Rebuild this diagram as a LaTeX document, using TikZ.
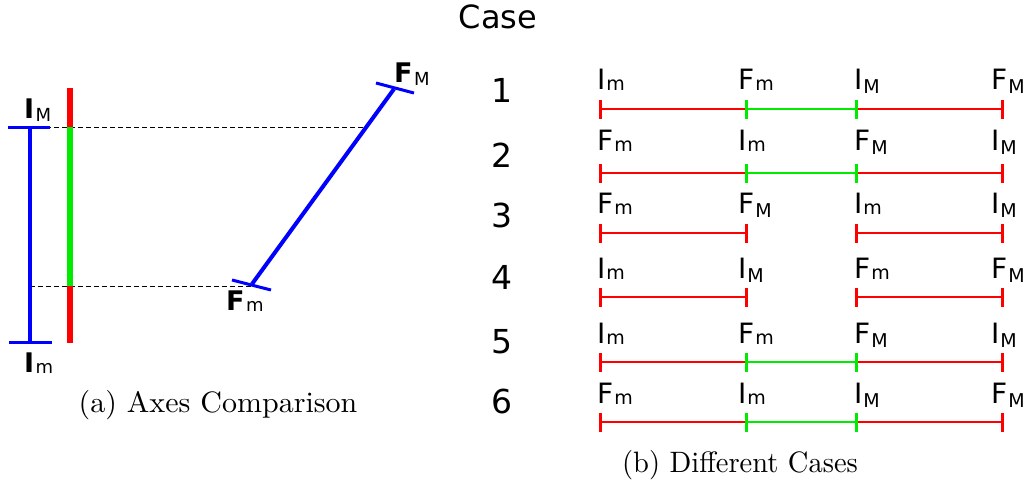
\documentclass[tikz,border=0pt]{standalone}
\usepackage{fontspec}
\usepackage{graphicx}
\newfontfamily\dv{DejaVu Sans}
\definecolor{pblue}{RGB}{0,0,255}
\definecolor{pred}{RGB}{255,0,0}
\definecolor{pgreen}{RGB}{0,235,0}
\newcommand\lbl[3]{#1\kern1pt\raisebox{-#3pt}{\fontsize{19}{19}\selectfont #2}}
\newcommand\blbl[3]{{\bfseries #1}\kern1.5pt\raisebox{-#3pt}{\fontsize{18}{18}\selectfont #2}}
\tikzset{
  blueln/.style={draw=pblue,line width=4pt},
  bluetick/.style={draw=pblue,line width=3pt},
  redbar/.style={draw=pred,line width=6.5pt},
  greenbar/.style={draw=pgreen,line width=6.5pt},
  dashln/.style={draw=black,line width=0.8pt,dash pattern=on 5pt off 3pt},
  seg/.style={line width=2.2pt},
  tk/.style={line width=3pt},
  rlab/.style={anchor=base west,inner sep=0pt,font=\dv\fontsize{28}{28}\selectfont},
  llab/.style={anchor=base west,inner sep=0pt,font=\dv\fontsize{27}{27}\selectfont},
  num/.style={anchor=base,inner sep=0pt,font=\dv\fontsize{33}{33}\selectfont},
  capnode/.style={inner sep=0pt}
}
\begin{document}
\begin{tikzpicture}[x=1pt,y=-1pt]
\useasboundingbox (0,0) rectangle (1026,485);
% ---------- left panel ----------
\coordinate (vt) at (30,127);
\coordinate (vb) at (30,342);
\coordinate (vtl) at (8,127);
\coordinate (vtr) at (50,127);
\coordinate (vbl) at (9,342);
\coordinate (vbr) at (52,342);
\coordinate (rt) at (70,88);
\coordinate (rb) at (70,343);
\coordinate (gt) at (70,127);
\coordinate (gb) at (70,286);
\coordinate (dl) at (30,286);
\coordinate (dt) at (366,127);
\coordinate (db2) at (251,286);
\coordinate (db) at (252,284);
\coordinate (dtop) at (394,89);
\coordinate (btl) at (232,280);
\coordinate (btr) at (271,290);
\coordinate (ttl) at (376,83);
\coordinate (ttr) at (414,93);
\draw[dashln] (vt) -- (dt);
\draw[dashln] (dl) -- (db2);
\draw[blueln] (vt) -- (vb);
\draw[bluetick] (vtl) -- (vtr);
\draw[bluetick] (vbl) -- (vbr);
\draw[redbar] (rt) -- (rb);
\draw[greenbar] (gt) -- (gb);
\draw[blueln] (db) -- (dtop);
\draw[bluetick] (btl) -- (btr);
\draw[bluetick] (ttl) -- (ttr);
\node[llab] (lIM) at (24,118) {\blbl{I}{M}{3}};
\node[llab] (lIm) at (24,372) {\blbl{I}{m}{1}};
\node[llab] (lFM) at (394,82) {\blbl{F}{M}{3}};
\node[llab] (lFm) at (226,310) {\blbl{F}{m}{1}};
\node[capnode] (capa) at (218,405) {\scalebox{3.0}[2.95]{\fontsize{10}{12}\selectfont (a) Axes Comparison}};
% ---------- right panel ----------
\node[anchor=base,inner sep=0pt,font=\dv\fontsize{32}{32}\selectfont] (case) at (498,28) {Case};
\foreach \n/\b in {1/102,2/167,3/227,4/289,5/353,6/413}
  \node[num] (n\n) at (502,\b) {\n};
\foreach \r/\l/\m in {
  1/109/pgreen,
  2/173/pgreen,
  3/233/white,
  4/297/white,
  5/362/pgreen,
  6/422/pgreen}{
  \coordinate (p\r a) at (600,\l);
  \coordinate (p\r b) at (746,\l);
  \coordinate (p\r c) at (856,\l);
  \coordinate (p\r d) at (1002,\l);
  \draw[pred,seg] (p\r a) -- (p\r b);
  \draw[pred,seg] (p\r c) -- (p\r d);
  \draw[\m,seg] (p\r b) -- (p\r c);
  \draw[pred,tk] ([yshift=-9.5pt]p\r a) -- ([yshift=9.5pt]p\r a);
  \draw[pred,tk] ([yshift=-9.5pt]p\r d) -- ([yshift=9.5pt]p\r d);
}
\foreach \r/\b/\A/\B/\C/\D/\sa/\sb/\sc/\sd/\ka/\kb/\kc/\kd in {
  1/89/I/F/I/F/m/m/M/M/1/1/4/4,
  2/150/F/I/F/I/m/m/M/M/1/1/4/4,
  3/213/F/F/I/I/m/M/m/M/1/4/1/4,
  4/278/I/I/F/F/m/M/m/M/1/4/1/4,
  5/343/I/F/F/I/m/m/M/M/1/1/4/4,
  6/403/F/I/I/F/m/m/M/M/1/1/4/4}{
  \node[rlab] (l\r a) at (597,\b) {\lbl{\A}{\sa}{\ka}};
  \node[rlab] (l\r b) at (738,\b) {\lbl{\B}{\sb}{\kb}};
  \node[rlab] (l\r c) at (854,\b) {\lbl{\C}{\sc}{\kc}};
  \node[rlab] (l\r d) at (991,\b) {\lbl{\D}{\sd}{\kd}};
}
% ticks at middle columns
\foreach \r/\m in {1/pgreen,2/pgreen,3/pred,4/pred,5/pgreen,6/pgreen}{
  \draw[\m,tk] ([yshift=-9.5pt]p\r b) -- ([yshift=9.5pt]p\r b);
  \draw[\m,tk] ([yshift=-9.5pt]p\r c) -- ([yshift=9.5pt]p\r c);
}
\node[capnode] (capb) at (740,465) {\scalebox{2.85}[2.95]{\fontsize{10}{12}\selectfont (b) Different Cases}};
\end{tikzpicture}
\end{document}
